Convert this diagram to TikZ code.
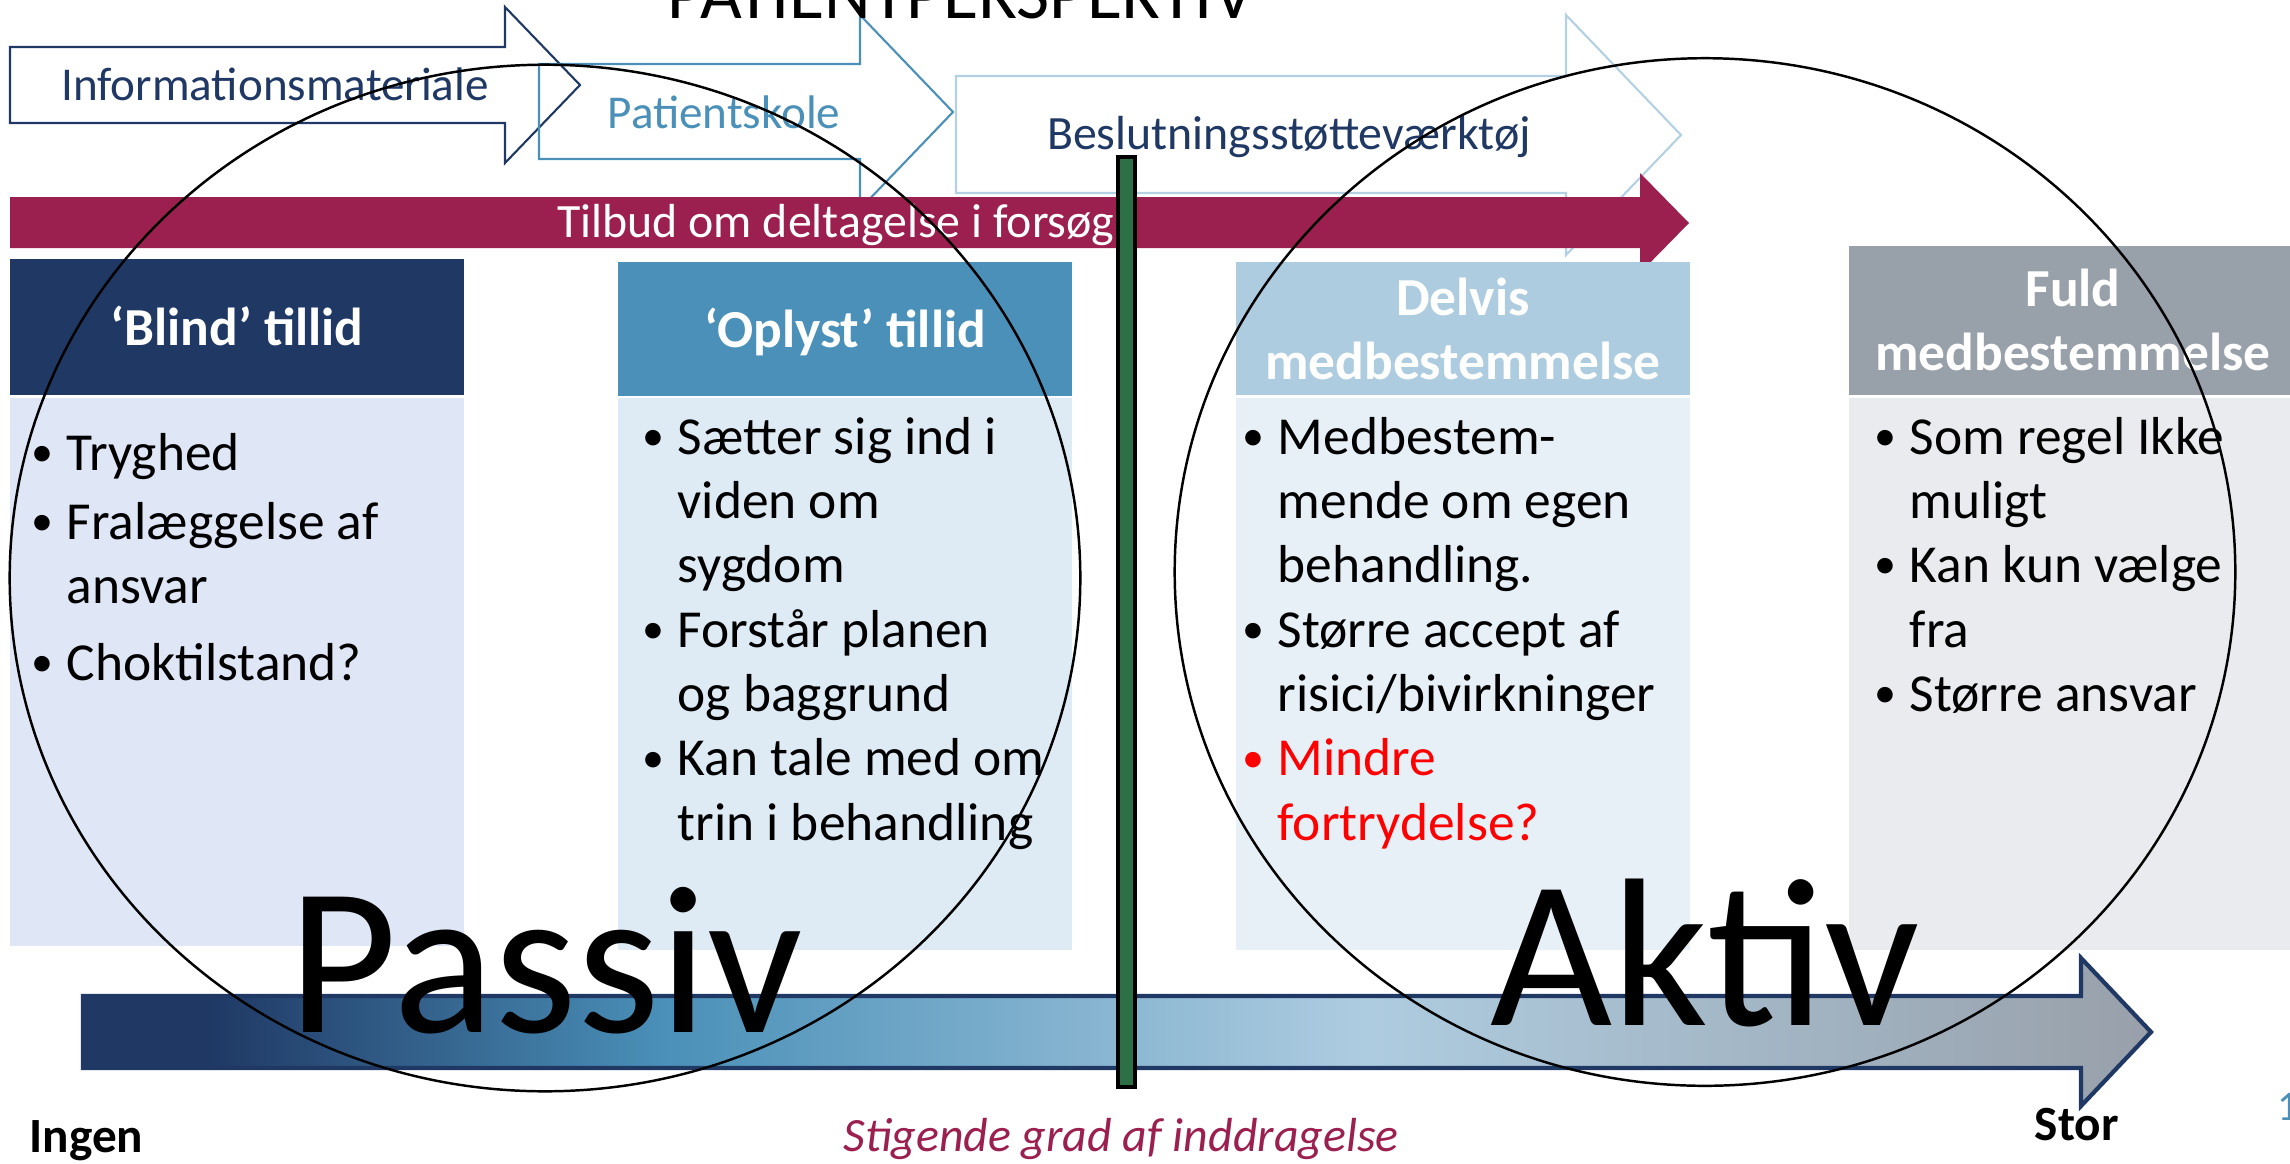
\documentclass[tikz,border=0pt]{standalone}
\usepackage{fontspec}
\setmainfont{Carlito}
\definecolor{navy}{HTML}{1F3864}
\definecolor{medblue}{HTML}{4A90B8}
\definecolor{lightblue}{HTML}{AECCE0}
\definecolor{paleblue}{HTML}{B4D0E3}
\definecolor{grayb}{HTML}{98A0AA}
\definecolor{maroon}{HTML}{9B1F4F}
\definecolor{barg}{HTML}{2E7045}
\definecolor{bodyA}{HTML}{DFE6F5}
\definecolor{bodyB}{HTML}{DEEBF4}
\definecolor{bodyC}{HTML}{E8F0F7}
\definecolor{bodyD}{HTML}{E9EBEE}
\pgfdeclarehorizontalshading{grad}{100bp}{color(0bp)=(navy); color(28bp)=(navy); color(39bp)=(medblue); color(56bp)=(lightblue); color(75bp)=(grayb); color(100bp)=(grayb)}
\newcommand{\bul}{\leavevmode\raisebox{0.07em}{\fontsize{12.5}{12.5}\selectfont\textbullet}}

\begin{document}
\begin{tikzpicture}[
	x=0.01cm,y=-0.01cm,
	outl/.style={line width=0.6pt},
	lbl/.style={anchor=base,inner sep=0pt,font=\fontsize{13.4}{15}\selectfont},
	hdr/.style={anchor=base,inner sep=0pt,text=white,align=center,
		font=\fontsize{15.2}{18}\selectfont\bfseries},
	lst/.style={anchor=base west,inner sep=0pt,font=\fontsize{15.2}{18.3}\selectfont},
	big/.style={anchor=base,inner sep=0pt,font=\fontsize{60}{62}\selectfont},
	ring/.style={draw=black,line width=0.7pt},
	edge/.style={anchor=base west,inner sep=0pt,font=\fontsize{14}{16}\selectfont\bfseries}
]
\useasboundingbox (0,0) rectangle (2290,1163);

% steps on top
\draw[outl,navy] (10,47) -- (505,47) -- (505,7) -- (580,85) -- (505,163) -- (505,123) -- (10,123) -- cycle;
\draw[outl,medblue] (539,64) -- (860,64) -- (860,15) -- (953,112) -- (860,209) -- (860,159) -- (539,159) -- cycle;
\draw[outl,paleblue] (956,76) -- (1566,76) -- (1566,15) -- (1681,135) -- (1566,255) -- (1566,193) -- (956,193) -- cycle;
\node[lbl,text=navy] (info) at (275,100) {Informationsmateriale};
\node[lbl,text=medblue] (skole) at (724,128) {Patientskole};
\node[lbl,text=navy,font=\fontsize{13.6}{15}\selectfont] (beslut) at (1289,149) {Beslutningsstøtteværktøj};

% offer bar
\fill[maroon] (10,197) -- (1640,197) -- (1640,173) -- (1689,223) -- (1640,273) -- (1640,248) -- (10,248) -- cycle;
\node[lbl,text=white,font=\fontsize{13.6}{15}\selectfont] (tilbud) at (836,237) {Tilbud om deltagelse i forsøg};

% columns
\fill[navy] (10,259) rectangle (464,395);
\fill[bodyA] (10,398) rectangle (464,946);
\fill[medblue] (618,262) rectangle (1072,396);
\fill[bodyB] (618,398) rectangle (1072,950);
\fill[lightblue] (1236,262) rectangle (1690,395);
\fill[bodyC] (1236,398) rectangle (1690,950);
\fill[grayb] (1849,246) rectangle (2290,395);
\fill[bodyD] (1849,398) rectangle (2290,950);

\node[hdr] (blindhdr) at (237,345) {‘Blind’ tillid};
\node[hdr] (oplysthdr) at (845,347) {‘Oplyst’ tillid};
\node[hdr] (delvishdr) at (1463,379) {Delvis\\medbestemmelse};
\node[hdr] (fuldhdr) at (2073,370) {Fuld\\medbestemmelse};

\node[lst] (blindtxt) at (31,470) {\begin{tabular}[t]{@{}p{0.35cm}@{}l@{}}
\bul & Tryghed\\[0.05cm]
\bul & Fralæggelse af\\
 & ansvar\\[0.12cm]
\bul & Choktilstand?
\end{tabular}};
\node[lst] (oplysttxt) at (642,454) {\begin{tabular}[t]{@{}p{0.35cm}@{}l@{}}
\bul & Sætter sig ind i\\
 & viden om\\
 & sygdom\\
\bul & Forstår planen\\
 & og baggrund\\
\bul & Kan tale med om\\
 & trin i behandling
\end{tabular}};
\node[lst] (delvistxt) at (1242,454) {\begin{tabular}[t]{@{}p{0.35cm}@{}l@{}}
\bul & Medbestem-\\
 & mende om egen\\
 & behandling.\\
\bul & Større accept af\\
 & risici/bivirkninger\\
\leavevmode\textcolor{red}{\bul} & \textcolor{red}{Mindre}\\
 & \textcolor{red}{fortrydelse?}
\end{tabular}};
\node[lst] (fuldtxt) at (1874,454) {\begin{tabular}[t]{@{}p{0.35cm}@{}l@{}}
\bul & Som regel Ikke\\
 & muligt\\
\bul & Kan kun vælge\\
 & fra\\
\bul & Større ansvar
\end{tabular}};

% scale arrow
\draw[navy,line width=1.2pt,shading=grad] (83,996) -- (2081,996) -- (2081,958) -- (2151,1032) -- (2081,1106) -- (2081,1068) -- (83,1068) -- cycle;
\node[big] (passiv) at (546,1032) {Passiv};
\node[big] (aktiv) at (1705,1025) {Aktiv};

% divider
\draw[fill=barg,line width=1.1pt] (1118,157) rectangle (1135,1087);

% rings
\draw[ring] (545,578) ellipse [x radius=5.35cm, y radius=5.13cm];
\draw[ring] (1705,572) ellipse [x radius=5.30cm, y radius=5.135cm];

\node[anchor=base,inner sep=0pt,font=\fontsize{20.5}{24}\selectfont] (title) at (961,18) {PATIENTPERSPEKTIV};
\node[edge] (ingen) at (29,1152) {Ingen};
\node[edge] (stor) at (2034,1140) {Stor};
\node[anchor=base,inner sep=0pt,text=maroon,font=\fontsize{13.6}{15}\selectfont\itshape] (grad) at (1121,1151) {Stigende grad af inddragelse};
\node[anchor=base west,inner sep=0pt,text=medblue,font=\fontsize{12}{14}\selectfont] (pnum) at (2277,1120) {1};
\end{tikzpicture}
\end{document}
